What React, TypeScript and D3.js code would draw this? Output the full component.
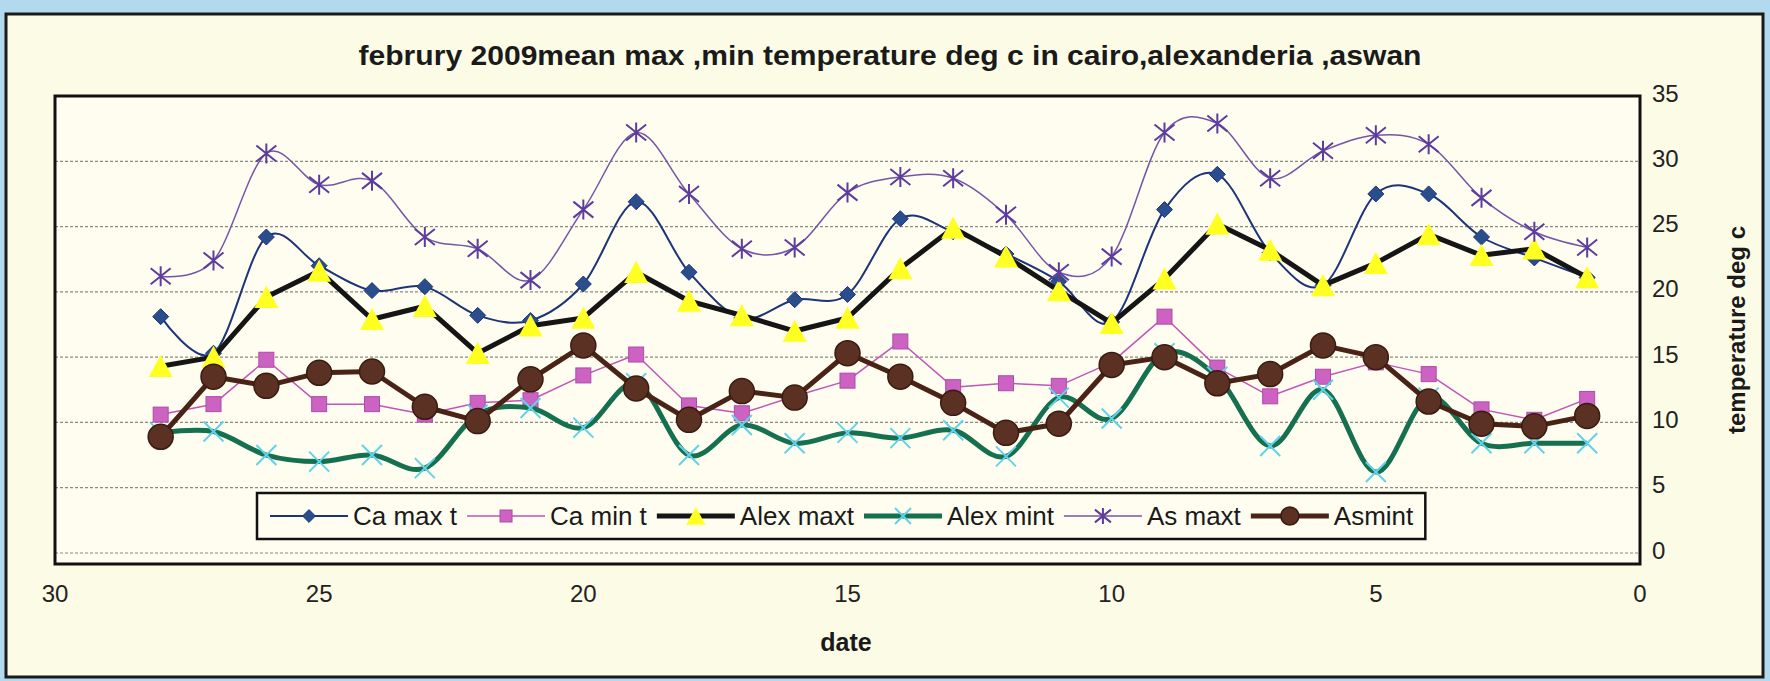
import { useEffect, useRef } from 'react';
import * as d3 from 'd3';

// day of month (x axis runs 30 -> 0)
const dates = [28, 27, 26, 25, 24, 23, 22, 21, 20, 19, 18, 17, 16, 15, 14, 13, 12, 11, 10, 9, 8, 7, 6, 5, 4, 3, 2, 1];

const caMaxT = [18.1, 15.3, 24.2, 22.0, 20.1, 20.4, 18.2, 17.8, 20.6, 26.9, 21.5, 18.0, 19.4, 19.8, 25.6, 24.6, 22.9, 20.8, 17.7, 26.3, 29.0, 23.0, 20.5, 27.5, 27.5, 24.2, 22.6, 21.1];
const caMinT = [10.6, 11.4, 14.8, 11.4, 11.4, 10.6, 11.5, 11.7, 13.6, 15.2, 11.3, 10.7, 12.0, 13.2, 16.2, 12.7, 13.0, 12.8, 14.6, 18.1, 14.2, 12.0, 13.5, 14.6, 13.7, 11.0, 10.2, 11.8];
const alexMaxT = [14.3, 15.0, 19.6, 21.6, 17.9, 18.9, 15.3, 17.4, 18.0, 21.5, 19.3, 18.2, 17.0, 18.0, 21.8, 24.9, 22.7, 20.1, 17.6, 21.0, 25.2, 23.2, 20.5, 22.2, 24.4, 22.8, 23.3, 21.1];
const alexMinT = [9.2, 9.3, 7.5, 7.0, 7.5, 6.5, 10.6, 11.1, 9.6, 13.0, 7.5, 9.8, 8.4, 9.2, 8.8, 9.4, 7.4, 11.9, 10.3, 15.3, 13.5, 8.2, 12.5, 6.2, 11.9, 8.4, 8.4, 8.4];
const asMaxT = [21.2, 22.4, 30.6, 28.2, 28.5, 24.2, 23.3, 20.9, 26.3, 32.2, 27.5, 23.3, 23.4, 27.6, 28.8, 28.7, 25.9, 21.5, 22.7, 32.2, 32.9, 28.7, 30.8, 32.0, 31.3, 27.2, 24.6, 23.4];
const asMinT = [8.9, 13.5, 12.8, 13.8, 13.9, 11.2, 10.1, 13.3, 15.9, 12.6, 10.2, 12.4, 11.9, 15.3, 13.5, 11.5, 9.2, 9.9, 14.4, 15.0, 13.0, 13.7, 15.9, 15.0, 11.6, 9.9, 9.7, 10.5];

const seriesNames = ['Ca max t', 'Ca min t', 'Alex maxt', 'Alex mint', 'As maxt', 'Asmint'];
const xTicks = [30, 25, 20, 15, 10, 5, 0];
const yTicks = [0, 5, 10, 15, 20, 25, 30, 35];

const chartTitle = 'februry 2009mean max ,min temperature deg c in cairo,alexanderia ,aswan';
const xTitle = 'date';
const yTitle = 'temperature deg c';

type MarkerKind = 'diamond' | 'square' | 'triangle' | 'cross' | 'star' | 'circle';

interface SeriesStyle {
    line: string;
    width: number;
    smooth: boolean;
    marker: MarkerKind;
    fill: string;
    stroke: string;
    size: number;
}

const styles: SeriesStyle[] = [
    { line: '#1d3479', width: 2, smooth: true, marker: 'diamond', fill: '#2a4d8c', stroke: '#1d3479', size: 16 },
    { line: '#c255b5', width: 1.5, smooth: false, marker: 'square', fill: '#cc62c2', stroke: '#b04aa8', size: 15 },
    { line: '#151515', width: 5, smooth: false, marker: 'triangle', fill: '#ffff22', stroke: 'none', size: 24 },
    { line: '#15704f', width: 5, smooth: true, marker: 'cross', fill: 'none', stroke: '#62d2ea', size: 20 },
    { line: '#7555a5', width: 1.5, smooth: true, marker: 'star', fill: 'none', stroke: '#5e3c9e', size: 20 },
    { line: '#4a2317', width: 5, smooth: false, marker: 'circle', fill: '#5a3122', stroke: '#3b1b10', size: 25 },
];

const FONT = '"Liberation Sans", Arial, sans-serif';

function drawMarker(
    g: d3.Selection<SVGGElement, unknown, null, undefined>,
    st: SeriesStyle,
    x: number,
    y: number,
    s: number,
) {
    const h = s / 2;
    if (st.marker === 'circle') {
        g.append('circle').attr('cx', x).attr('cy', y).attr('r', h)
            .attr('fill', st.fill).attr('stroke', st.stroke).attr('stroke-width', 1.5);
        return;
    }
    if (st.marker === 'square') {
        g.append('rect').attr('x', x - h).attr('y', y - h).attr('width', s).attr('height', s)
            .attr('fill', st.fill).attr('stroke', st.stroke).attr('stroke-width', 1);
        return;
    }
    let d = '';
    if (st.marker === 'diamond') d = `M${x},${y - h}L${x + h},${y}L${x},${y + h}L${x - h},${y}Z`;
    if (st.marker === 'triangle') d = `M${x},${y - h * 0.95}L${x + h},${y + h * 0.9}L${x - h},${y + h * 0.9}Z`;
    if (st.marker === 'cross') d = `M${x - h},${y - h}L${x + h},${y + h}M${x + h},${y - h}L${x - h},${y + h}`;
    if (st.marker === 'star') d = `M${x - h},${y - h * 0.8}L${x + h},${y + h * 0.8}M${x + h},${y - h * 0.8}L${x - h},${y + h * 0.8}M${x},${y - h}L${x},${y + h}`;
    const open = st.marker === 'cross' || st.marker === 'star';
    g.append('path').attr('d', d)
        .attr('fill', open ? 'none' : st.fill)
        .attr('stroke', st.stroke)
        .attr('stroke-width', open ? 2 : 1);
}

export default function App() {
    const svgRef = useRef<SVGSVGElement>(null);
    const width = 1770;
    const height = 681;

    useEffect(() => {
        if (!svgRef.current) return;
        const svg = d3.select(svgRef.current);
        svg.selectAll('*').remove();

        const plot = { left: 55, top: 96, right: 1640, bottom: 564 };

        // page + chart frame
        svg.append('rect').attr('width', width).attr('height', height).attr('fill', '#b2d9ee');
        svg.append('rect')
            .attr('x', 6).attr('y', 14).attr('width', 1757).attr('height', 663)
            .attr('fill', '#fcfbe6').attr('stroke', '#1a1a1a').attr('stroke-width', 3);

        const xScale = d3.scaleLinear().domain([30, 0]).range([plot.left, plot.right]);
        const yScale = d3.scaleLinear().domain([0, 35]).range([553, plot.top]);

        // plot area
        svg.append('rect')
            .attr('x', plot.left).attr('y', plot.top)
            .attr('width', plot.right - plot.left).attr('height', plot.bottom - plot.top)
            .attr('fill', '#fefdf0');

        // gridlines
        svg.append('g')
            .selectAll('line')
            .data(yTicks.filter(t => t < 35))
            .join('line')
            .attr('x1', plot.left).attr('x2', plot.right)
            .attr('y1', d => yScale(d)).attr('y2', d => yScale(d))
            .attr('stroke', '#8a8a80').attr('stroke-width', 1.2)
            .attr('stroke-dasharray', '3,2');

        svg.append('rect')
            .attr('x', plot.left).attr('y', plot.top)
            .attr('width', plot.right - plot.left).attr('height', plot.bottom - plot.top)
            .attr('fill', 'none').attr('stroke', '#111').attr('stroke-width', 3);

        // series
        const allValues = [caMaxT, caMinT, alexMaxT, alexMinT, asMaxT, asMinT];
        allValues.forEach((vals, i) => {
            const st = styles[i];
            const pts: [number, number][] = dates.map((d, j) => [xScale(d), yScale(vals[j])]);
            const line = d3.line()
                .curve(st.smooth ? d3.curveCardinal.tension(0) : d3.curveLinear);
            const g = svg.append('g');
            g.append('path')
                .attr('d', line(pts))
                .attr('fill', 'none')
                .attr('stroke', st.line)
                .attr('stroke-width', st.width)
                .attr('stroke-linejoin', 'round');
            pts.forEach(([x, y]) => drawMarker(g, st, x, y, st.size));
        });

        // x tick labels
        svg.append('g')
            .selectAll('text')
            .data(xTicks)
            .join('text')
            .attr('x', d => xScale(d))
            .attr('y', 593)
            .attr('text-anchor', 'middle')
            .attr('dominant-baseline', 'central')
            .attr('font-family', FONT)
            .attr('font-size', 24)
            .attr('fill', '#222')
            .text(d => d);

        // y tick labels (right side)
        svg.append('g')
            .selectAll('text')
            .data(yTicks)
            .join('text')
            .attr('x', 1652)
            .attr('y', d => yScale(d) - 3)
            .attr('dominant-baseline', 'central')
            .attr('font-family', FONT)
            .attr('font-size', 24)
            .attr('fill', '#222')
            .text(d => d);

        // titles
        svg.append('text')
            .attr('x', 890).attr('y', 65)
            .attr('text-anchor', 'middle')
            .attr('font-family', FONT).attr('font-weight', 'bold').attr('font-size', 27)
            .attr('textLength', 1063).attr('lengthAdjust', 'spacingAndGlyphs')
            .attr('fill', '#1a1a1a')
            .text(chartTitle);

        svg.append('text')
            .attr('x', 846).attr('y', 642)
            .attr('text-anchor', 'middle').attr('dominant-baseline', 'central')
            .attr('font-family', FONT).attr('font-weight', 'bold').attr('font-size', 25)
            .attr('fill', '#1a1a1a')
            .text(xTitle);

        svg.append('text')
            .attr('transform', 'translate(1736,330) rotate(-90)')
            .attr('text-anchor', 'middle').attr('dominant-baseline', 'central')
            .attr('font-family', FONT).attr('font-weight', 'bold').attr('font-size', 24)
            .attr('fill', '#1a1a1a')
            .text(yTitle);

        // legend
        const legend = { x: 257, y: 493, h: 46 };
        const lg = svg.append('g');
        const box = lg.append('rect')
            .attr('x', legend.x).attr('y', legend.y).attr('height', legend.h)
            .attr('fill', '#fefdf0').attr('stroke', '#111').attr('stroke-width', 2.5);
        let cx = legend.x + 13;
        const cy = legend.y + legend.h / 2;
        seriesNames.forEach((name, i) => {
            const st = styles[i];
            const sampleW = 78;
            lg.append('line')
                .attr('x1', cx).attr('x2', cx + sampleW)
                .attr('y1', cy).attr('y2', cy)
                .attr('stroke', st.line).attr('stroke-width', st.width);
            drawMarker(lg as any, st, cx + sampleW / 2, cy, st.marker === 'circle' ? 18 : st.size * 0.8);
            const t = lg.append('text')
                .attr('x', cx + sampleW + 5).attr('y', cy)
                .attr('dominant-baseline', 'central')
                .attr('font-family', FONT).attr('font-size', 26)
                .attr('fill', '#1a1a1a')
                .text(name);
            const tw = (t.node() as SVGTextElement).getComputedTextLength();
            cx += sampleW + 5 + tw + 10;
        });
        box.attr('width', cx - legend.x + 2);
    }, []);

    return (
        <svg
            ref={svgRef}
            width={width}
            height={height}
            style={{ position: 'absolute', left: 0, top: 0, display: 'block' }}
        />
    );
}
